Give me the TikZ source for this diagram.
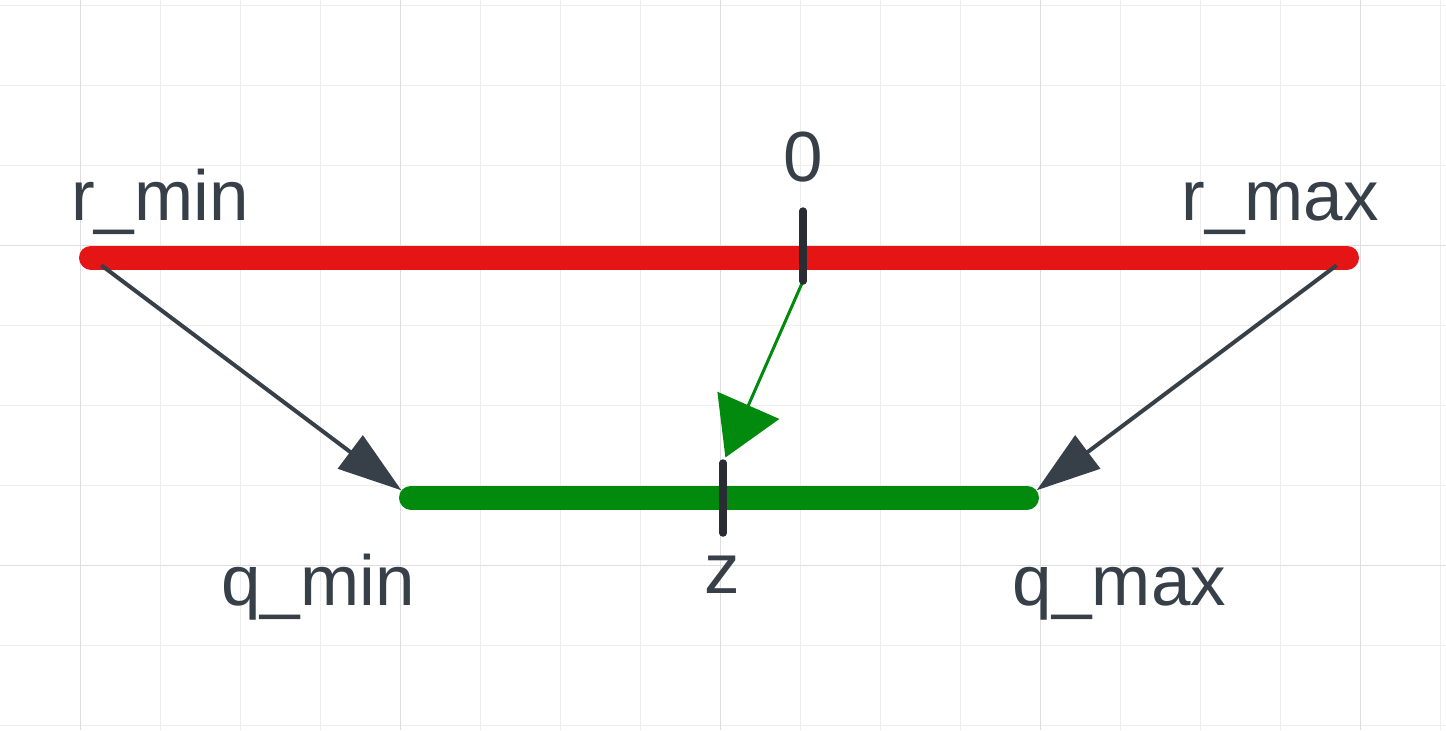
\documentclass[tikz,border=0pt]{standalone}
\usepackage{fontspec}
\setmainfont{Liberation Sans}
\usepackage{tikz}
\usetikzlibrary{arrows.meta}

\definecolor{barred}{RGB}{229,21,21}
\definecolor{bargreen}{RGB}{2,138,15}
\definecolor{labelgray}{RGB}{55,63,73}
\definecolor{tickgray}{RGB}{41,44,51}
\definecolor{gridminor}{RGB}{237,237,237}
\definecolor{gridmajor}{RGB}{222,222,222}

\begin{document}
\begin{tikzpicture}[x=0.5pt,y=-0.5pt,
  lbl/.style={anchor=base,inner sep=0pt,text=labelgray,font=\fontsize{35.5pt}{40pt}\selectfont},
  rangebar/.style={line width=12pt,line cap=round},
  tickmark/.style={tickgray,line width=3.75pt,line cap=round},
  maparrow/.style={labelgray,line width=2pt,-{Triangle[length=32pt,width=20.5pt]},shorten <=6.5pt,shorten >=6pt}]

\useasboundingbox[fill=white](0,0) rectangle (1446,730);

% grid
\foreach \x in {80,160,...,1440} \draw[gridminor,line width=0.5pt](\x,0)--(\x,730);
\foreach \y in {5.5,85.5,...,725.5} \draw[gridminor,line width=0.5pt](0,\y)--(1446,\y);
\foreach \x in {80,400,...,1360} \draw[gridmajor,line width=0.5pt](\x,0)--(\x,730);
\foreach \y in {245.5,565.5} \draw[gridmajor,line width=0.5pt](0,\y)--(1446,\y);

% end points
\coordinate (rmin) at (91,257.5);
\coordinate (rmax) at (1347,257.5);
\coordinate (qmin) at (411,497.5);
\coordinate (qmax) at (1027,497.5);
\coordinate (zero top) at (803,211);
\coordinate (zero bot) at (803,281);
\coordinate (z top) at (723,463);
\coordinate (z bot) at (723,533);

% ranges
\draw[rangebar,barred](rmin)--(rmax);
\draw[rangebar,bargreen](qmin)--(qmax);

% maps
\draw[maparrow](rmin)--(qmin);
\draw[maparrow](rmax)--(qmax);
\draw[bargreen,line width=1.5pt,-{Triangle[length=28.5pt,width=33.5pt]},shorten >=3pt](zero bot)--(z top);

% ticks
\draw[tickmark](zero top)--(zero bot);
\draw[tickmark](z top)--(z bot);

% labels
\node[lbl](rmin label) at (160,220) {r\_min};
\node[lbl](rmax label) at (1280,220) {r\_max};
\node[lbl](zero label) at (803.5,181) {0};
\node[lbl](qmin label) at (318,605) {q\_min};
\node[lbl](qmax label) at (1119.5,605) {q\_max};
\node[lbl](z label) at (722,593) {z};

\end{tikzpicture}
\end{document}
